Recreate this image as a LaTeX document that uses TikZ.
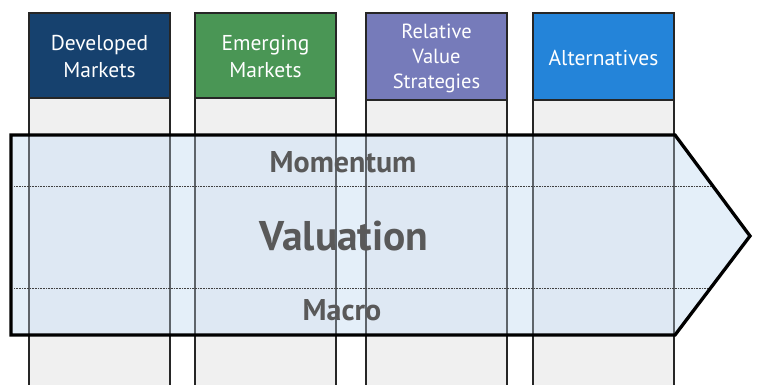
\documentclass[tikz,border=0pt]{standalone}
\usepackage{fontspec}
\setmainfont{PT Sans}
\definecolor{cDM}{RGB}{22,65,110}
\definecolor{cEM}{RGB}{74,150,85}
\definecolor{cRV}{RGB}{118,123,186}
\definecolor{cAL}{RGB}{36,132,217}
\definecolor{colbody}{RGB}{240,240,240}
\definecolor{arrfill}{RGB}{210,228,245}
\definecolor{txtgray}{RGB}{89,89,89}
\begin{document}
\begin{tikzpicture}[x=1pt,y=-1pt,
  colbox/.style={draw=black!85,line width=1.3pt,fill=colbody},
  headline/.style={draw=black!85,line width=1.3pt},
  headtxt/.style={text=white,align=center,font=\fontsize{21.5}{27}\selectfont},
  bigtxt/.style={text=txtgray}]
\useasboundingbox (0,0) rectangle (758,385);
% column bodies
\foreach \n/\a/\b in {c1/29/170,c2/195/336,c3/366/507,c4/533/674}{
  \path[colbox] (\a,98) rectangle (\b,392);
}
% headers
\fill[cDM] (29,13) rectangle (170,98);
\fill[cEM] (195,13) rectangle (336,98);
\fill[cRV] (366,13) rectangle (507,100);
\fill[cAL] (533,13) rectangle (674,100);
\draw[headline] (29,13) rectangle (170,98);
\draw[headline] (195,13) rectangle (336,98);
\draw[headline] (366,13) rectangle (507,100);
\draw[headline] (533,13) rectangle (674,100);
\node[headtxt] (h1) at (99.5,57) {Developed\\Markets};
\node[headtxt] (h2) at (265.5,57) {Emerging\\Markets};
\node[headtxt,font=\fontsize{20.5}{25}\selectfont] (h3) at (436.5,58) {Relative\\Value\\Strategies};
\node[headtxt] (h4) at (603.5,58) {Alternatives};
% arrow
\coordinate (aTL) at (11,135);
\coordinate (aTR) at (675,135);
\coordinate (aTip) at (750,236);
\coordinate (aBR) at (675,335);
\coordinate (aBL) at (11,335);
\fill[arrfill,fill opacity=0.6] (aTL) -- (aTR) -- (aTip) -- (aBR) -- (aBL) -- cycle;
% column edges seen through the arrow
\foreach \a in {29,170,195,336,366,507,533,674}{
  \draw[black!85,line width=1.2pt,draw opacity=0.45] (\a,136) -- (\a,334);
}
\coordinate (d1a) at (14,186);
\coordinate (d1b) at (713,186);
\coordinate (d2a) at (14,288);
\coordinate (d2b) at (710,288);
\draw[black!75,line width=0.7pt,dash pattern=on 0.8pt off 0.8pt] (d1a) -- (d1b);
\draw[black!75,line width=0.7pt,dash pattern=on 0.8pt off 0.8pt] (d2a) -- (d2b);
\draw[black,line width=3.3pt,line join=miter] (aTL) -- (aTR) -- (aTip) -- (aBR) -- (aBL) -- cycle;
\node[bigtxt,font=\bfseries\fontsize{30}{34}\selectfont] (mom) at (343,162) {Momentum};
\node[bigtxt,font=\bfseries\fontsize{41.5}{44}\selectfont] (val) at (344,236) {Valuation};
\node[bigtxt,font=\bfseries\fontsize{30}{34}\selectfont] (mac) at (342,310) {Macro};
\end{tikzpicture}
\end{document}
